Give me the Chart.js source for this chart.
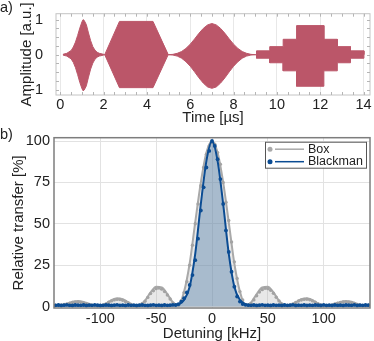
<!DOCTYPE html>
<html>
<head>
<meta charset="utf-8">
<script src="https://cdn.jsdelivr.net/npm/chart.js@4.4.1/dist/chart.umd.min.js"></script>
<style>
  body { margin: 0; background: #fff; }
  #wrap { position: relative; width: 374px; height: 341px; overflow: hidden; }
  canvas { position: absolute; left: 0; }
  #pulseChart { top: 0; }
  #transferChart { top: 125px; }
  .panelLabel { position: absolute; left: 0; font: 14.5px "Liberation Sans", Arial, sans-serif; color: #222; }
</style>
</head>
<body>
<div id="wrap">
  <canvas id="pulseChart" width="374" height="125"></canvas>
  <canvas id="transferChart" width="374" height="216"></canvas>
  <div class="panelLabel" style="top: -1px;">a)</div>
  <div class="panelLabel" style="top: 126px;">b)</div>
</div>
<script>
// a) pulse envelopes (time in µs)
const timeUs = [
  0.12, 0.3, 0.5, 0.6, 0.7, 0.8, 0.9, 1.0, 1.05, 1.1, 1.2, 1.3, 1.4, 1.5, 1.6, 1.7, 1.8, 2.0,
  2.05, 2.73, 4.28, 4.98,
  5.0, 5.2, 5.4, 5.6, 5.8, 6.0, 6.2, 6.4, 6.6, 6.8, 7.0, 7.2, 7.4, 7.6, 7.8, 8.0, 8.2, 8.4, 8.6, 8.8, 9.0,
  9.06, 9.06, 9.67, 9.67, 10.29, 10.29, 10.91, 10.91, 12.17, 12.17, 12.79, 12.79, 13.4, 13.4, 14.02, 14.02
];
const envelopeTop = [
  0.01, 0.04, 0.12, 0.22, 0.36, 0.55, 0.76, 0.94, 1.0, 0.98, 0.86, 0.62, 0.4, 0.23, 0.13, 0.07, 0.04, 0.01,
  0, 0.95, 0.95, 0,
  0, 0.01, 0.04, 0.09, 0.18, 0.3, 0.45, 0.61, 0.75, 0.85, 0.89, 0.85, 0.75, 0.61, 0.45, 0.3, 0.18, 0.09, 0.04, 0.01, 0,
  0, 0.11, 0.11, 0.23, 0.23, 0.44, 0.44, 0.83, 0.83, 0.44, 0.44, 0.23, 0.23, 0.11, 0.11, 0
];
const envelopeBottom = [
  -0.01, -0.04, -0.12, -0.22, -0.37, -0.57, -0.79, -0.97, -1.03, -1.01, -0.89, -0.64, -0.41, -0.24, -0.13, -0.07, -0.04, -0.01,
  0, -0.94, -0.94, 0,
  0, -0.01, -0.04, -0.1, -0.2, -0.33, -0.49, -0.66, -0.81, -0.92, -0.96, -0.92, -0.81, -0.66, -0.49, -0.33, -0.2, -0.1, -0.04, -0.01, 0,
  0, -0.1, -0.1, -0.23, -0.23, -0.46, -0.46, -0.9, -0.9, -0.46, -0.46, -0.23, -0.23, -0.1, -0.1, 0
];
const timeTicks = [0, 2, 4, 6, 8, 10, 12, 14];
const amplitudeTicks = [-1, 0, 1];

// b) transfer spectra (detuning in kHz, transfer in %)
const detuningLine = [
  -140, -135, -130, -125, -120, -115, -110, -105, -100, -95, -90, -85, -80, -75, -70, -65, -60, -55, -50,
  -45, -40, -35, -30, -25, -20, -15, -10, -5, 0, 5, 10, 15, 20, 25, 30, 35, 40,
  45, 50, 55, 60, 65, 70, 75, 80, 85, 90, 95, 100, 105, 110, 115, 120, 125, 130, 135, 140
];
const boxLine = [
  0.5, 0.6, 1.6, 2.9, 3.3, 2.8, 1.6, 0.6, 0.6, 1.8, 3.9, 5.0, 4.4, 2.6, 0.8, 0.8, 3.5, 8.5, 12,
  11.5, 7.5, 2.5, 1.0, 9, 26, 51, 75, 93, 100, 93, 75, 51, 26, 9, 1.0, 2.5, 7.5,
  11.5, 12, 8.5, 3.5, 0.8, 0.8, 2.6, 4.4, 5.0, 3.9, 1.8, 0.6, 0.6, 1.6, 2.8, 3.3, 2.9, 1.6, 0.6, 0.5
];
const blackmanLine = [
  0.8, 0.8, 0.8, 0.8, 0.8, 0.8, 0.8, 0.8, 0.8, 0.8, 0.8, 0.8, 0.8, 0.8, 0.8, 0.8, 0.8, 0.8, 0.8,
  0.8, 0.8, 0.8, 1.3, 4, 12, 32, 62, 88, 100, 88, 62, 32, 12, 4, 1.3, 0.8, 0.8,
  0.8, 0.8, 0.8, 0.8, 0.8, 0.8, 0.8, 0.8, 0.8, 0.8, 0.8, 0.8, 0.8, 0.8, 0.8, 0.8, 0.8, 0.8, 0.8, 0.8
];
const detuningPoints = [
  -140, -137.5, -135, -132.5, -130, -127.5, -125, -122.5, -120, -117.5,
  -115, -112.5, -110, -107.5, -105, -102.5, -100, -97.5, -95, -92.5,
  -90, -87.5, -85, -82.5, -80, -77.5, -75, -72.5, -70, -67.5,
  -65, -62.5, -60, -57.5, -55, -52.5, -50, -47.5, -45, -42.5,
  -40, -37.5, -35, -32.5, -30, -27.5, -25, -22.5, -20, -17.5,
  -15, -12.5, -10, -7.5, -5, -2.5, 0, 2.5, 5, 7.5,
  10, 12.5, 15, 17.5, 20, 22.5, 25, 27.5, 30, 32.5,
  35, 37.5, 40, 42.5, 45, 47.5, 50, 52.5, 55, 57.5,
  60, 62.5, 65, 67.5, 70, 72.5, 75, 77.5, 80, 82.5,
  85, 87.5, 90, 92.5, 95, 97.5, 100, 102.5, 105, 107.5,
  110, 112.5, 115, 117.5, 120, 122.5, 125, 127.5, 130, 132.5,
  135, 137.5, 140
];
const boxPoints = [
  0.8, 0.6, 0.9, 1.2, 1.5, 2.0, 2.4, 2.6, 2.7, 2.5,
  2.2, 1.6, 1.2, 0.8, 0.6, 0.5, 0.7, 1.0, 1.5, 2.6,
  3.4, 4.0, 4.3, 4.2, 3.8, 3.0, 2.2, 1.2, 0.7, 0.5,
  0.8, 1.8, 3.2, 5.5, 7.8, 9.5, 10.8, 11.2, 10.5, 9.0,
  7.0, 4.5, 2.2, 1.0, 0.8, 3.5, 8.5, 15, 25, 37,
  50, 62, 73, 84, 92, 97, 99, 98, 93, 86,
  75, 63, 52, 39, 27, 17, 9, 4, 1.2, 0.8,
  1.8, 4.0, 6.5, 8.8, 10.2, 11.0, 10.8, 9.8, 8.0, 5.6,
  3.4, 1.6, 0.7, 0.6, 0.9, 1.6, 2.4, 3.3, 3.9, 4.3,
  4.4, 4.1, 3.4, 2.6, 1.7, 1.0, 0.6, 0.5, 0.7, 1.0,
  1.5, 2.0, 2.4, 2.7, 2.8, 2.6, 2.3, 1.8, 1.3, 0.9,
  0.6, 0.6, 0.8
];
const blackmanPoints = [
  0.7, 0.9, 0.6, 0.8, 1.0, 0.7, 0.6, 0.9, 0.8, 0.7,
  0.9, 0.6, 0.8, 0.7, 1.0, 0.8, 0.6, 0.7, 0.9, 0.8,
  0.6, 0.8, 1.0, 0.7, 0.8, 0.6, 0.9, 0.7, 0.8, 0.6,
  0.8, 0.9, 0.7, 0.6, 0.8, 1.0, 0.7, 0.8, 0.6, 0.9,
  0.7, 0.8, 1.0, 0.9, 1.5, 3.0, 5.0, 8.5, 13, 19,
  28, 41, 58, 72, 84, 94, 100, 97, 89, 77,
  62, 46, 33, 21, 12, 6, 3, 1.5, 1.0, 0.8,
  0.7, 0.9, 0.6, 0.8, 1.0, 0.7, 0.8, 0.6, 0.9, 0.7,
  0.8, 0.6, 0.9, 0.7, 0.8, 1.0, 0.6, 0.8, 0.7, 0.9,
  0.6, 0.8, 0.7, 0.9, 0.8, 0.6, 1.0, 0.7, 0.8, 0.6,
  0.9, 0.7, 0.8, 0.6, 0.9, 0.8, 0.7, 1.0, 0.6, 0.8,
  0.7, 0.9, 0.8
];
const detuningTicks = [-100, -50, 0, 50, 100];
const transferTicks = [0, 25, 50, 75, 100];
const seriesNames = ['Box', 'Blackman'];

const fontFamily = '"Liberation Sans", Arial, sans-serif';
const textColor = '#222';
const pulseColor = '#bb5669';
const boxColor = '#a9a9a9';
const blackmanColor = '#0b4c93';


function toPoints(xs, ys) {
  return xs.map((x, i) => ({ x: x, y: ys[i] }));
}


function framePlugin(color, width) {
  return {
    id: 'frame',
    afterDraw(chart) {
      const area = chart.chartArea;
      const ctx = chart.ctx;
      ctx.save();
      ctx.strokeStyle = color;
      ctx.lineWidth = width;
      ctx.strokeRect(area.left, area.top, area.right - area.left, area.bottom - area.top);
      ctx.restore();
    }
  };
}


// little inside ticks like on the original frame of panel a
const minorTickPlugin = {
  id: 'minorTicks',
  afterDraw(chart) {
    const ctx = chart.ctx;
    const area = chart.chartArea;
    const xScale = chart.scales.x;
    const yScale = chart.scales.y;
    ctx.save();
    ctx.strokeStyle = '#b5b5b5';
    ctx.lineWidth = 1;
    ctx.beginPath();
    for (let t = 0; t <= 14; t += 0.5) {
      const px = Math.round(xScale.getPixelForValue(t)) + 0.5;
      ctx.moveTo(px, area.top); ctx.lineTo(px, area.top + 3);
      ctx.moveTo(px, area.bottom); ctx.lineTo(px, area.bottom - 3);
    }
    for (let a = -1; a <= 1.001; a += 0.25) {
      const py = Math.round(yScale.getPixelForValue(a)) + 0.5;
      ctx.moveTo(area.left, py); ctx.lineTo(area.left + 3, py);
      ctx.moveTo(area.right, py); ctx.lineTo(area.right - 3, py);
    }
    ctx.stroke();
    ctx.restore();
  }
};


const legendPlugin = {
  id: 'boxLegend',
  afterDraw(chart) {
    const ctx = chart.ctx;
    const w = 101, h = 26;
    const x = chart.chartArea.right - 4 - w;
    const y = chart.chartArea.top + 4;
    const colors = [boxColor, blackmanColor];
    ctx.save();
    ctx.fillStyle = '#fff';
    ctx.fillRect(x, y, w, h);
    ctx.strokeStyle = '#555';
    ctx.lineWidth = 1;
    ctx.strokeRect(x + 0.5, y + 0.5, w, h);
    seriesNames.forEach((name, i) => {
      const cy = y + 7.5 + i * 12.5;
      ctx.fillStyle = colors[i];
      ctx.beginPath();
      ctx.arc(x + 5, cy, 2.5, 0, Math.PI * 2);
      ctx.fill();
      ctx.strokeStyle = colors[i];
      ctx.lineWidth = 1.5;
      ctx.beginPath();
      ctx.moveTo(x + 10, cy);
      ctx.lineTo(x + 39, cy);
      ctx.stroke();
      ctx.fillStyle = textColor;
      ctx.font = '12.5px ' + fontFamily;
      ctx.textBaseline = 'middle';
      ctx.fillText(name, x + 43, cy);
    });
    ctx.restore();
  }
};


function axisFont(size, lineHeight) {
  return { family: fontFamily, size: size, lineHeight: lineHeight || 1.2 };
}


new Chart(document.getElementById('pulseChart'), {
  type: 'line',
  data: {
    datasets: [{
      data: toPoints(timeUs, envelopeTop),
      borderColor: pulseColor,
      borderWidth: 1,
      backgroundColor: pulseColor,
      pointRadius: 0,
      tension: 0,
      fill: false
    }, {
      data: toPoints(timeUs, envelopeBottom),
      borderColor: pulseColor,
      borderWidth: 1,
      backgroundColor: pulseColor,
      pointRadius: 0,
      tension: 0,
      fill: '-1'
    }]
  },
  options: {
    responsive: false,
    animation: false,
    layout: { padding: { top: 8, right: 4, left: 0, bottom: 0 } },
    plugins: { legend: { display: false }, tooltip: { enabled: false } },
    scales: {
      x: {
        type: 'linear', min: -0.2, max: 14.3,
        afterBuildTicks: s => { s.ticks = timeTicks.map(v => ({ value: v })); },
        afterFit: s => { s.height = 30; },
        grid: { color: '#e8e8e8', drawTicks: false },
        border: { display: false },
        ticks: { color: textColor, font: axisFont(14.5), padding: 1, maxRotation: 0, callback: v => String(v) },
        title: { display: true, text: 'Time [µs]', color: textColor, font: axisFont(15, 1), padding: 0 }
      },
      y: {
        min: -1.15, max: 1.17,
        afterBuildTicks: s => { s.ticks = amplitudeTicks.map(v => ({ value: v })); },
        afterFit: s => { s.width = 56; },
        grid: { display: false },
        border: { display: false },
        ticks: { color: textColor, font: axisFont(14.5), padding: 5, callback: v => String(v) },
        title: { display: true, text: 'Amplitude [a.u.]', color: textColor, font: axisFont(15, 1), padding: { top: 19, bottom: 0 } }
      }
    }
  },
  plugins: [framePlugin('#c4c4c4', 1), minorTickPlugin]
});


new Chart(document.getElementById('transferChart'), {
  type: 'line',
  data: {
    datasets: [{
      label: seriesNames[0],
      data: toPoints(detuningLine, boxLine),
      borderColor: boxColor,
      borderWidth: 2,
      backgroundColor: 'rgba(185, 185, 185, 0.33)',
      fill: 'origin',
      pointRadius: 0,
      cubicInterpolationMode: 'monotone',
      order: 4
    }, {
      data: toPoints(detuningPoints, boxPoints),
      showLine: false,
      pointRadius: 1.7,
      pointBorderWidth: 0,
      pointBackgroundColor: '#a3a3a3',
      order: 3
    }, {
      label: seriesNames[1],
      data: toPoints(detuningLine, blackmanLine),
      borderColor: blackmanColor,
      borderWidth: 2,
      backgroundColor: 'rgba(60, 110, 160, 0.37)',
      fill: 'origin',
      pointRadius: 0,
      cubicInterpolationMode: 'monotone',
      order: 2
    }, {
      data: toPoints(detuningPoints, blackmanPoints),
      showLine: false,
      pointRadius: 1.9,
      pointBorderWidth: 0,
      pointBackgroundColor: blackmanColor,
      order: 1
    }]
  },
  options: {
    responsive: false,
    animation: false,
    layout: { padding: { top: 8, right: 3, left: 0, bottom: 0 } },
    plugins: { legend: { display: false }, tooltip: { enabled: false } },
    scales: {
      x: {
        type: 'linear', min: -141.5, max: 141.5,
        afterBuildTicks: s => { s.ticks = detuningTicks.map(v => ({ value: v })); },
        afterFit: s => { s.height = 33; },
        grid: { color: '#e2e2e2', drawTicks: false },
        border: { display: false },
        ticks: { color: textColor, font: axisFont(14.5), padding: 2, maxRotation: 0, callback: v => String(v) },
        title: { display: true, text: 'Detuning [kHz]', color: textColor, font: axisFont(15, 1), padding: 0 }
      },
      y: {
        min: -0.9, max: 102,
        afterBuildTicks: s => { s.ticks = transferTicks.map(v => ({ value: v })); },
        afterFit: s => { s.width = 54; },
        grid: { color: '#e2e2e2', drawTicks: false },
        border: { display: false },
        ticks: { color: textColor, font: axisFont(14.5), padding: 4, callback: v => String(v) },
        title: { display: true, text: 'Relative transfer [%]', color: textColor, font: axisFont(15, 1), padding: { top: 11, bottom: 0 } }
      }
    }
  },
  plugins: [framePlugin('#7d7d7d', 1.5), legendPlugin]
});
</script>
</body>
</html>
